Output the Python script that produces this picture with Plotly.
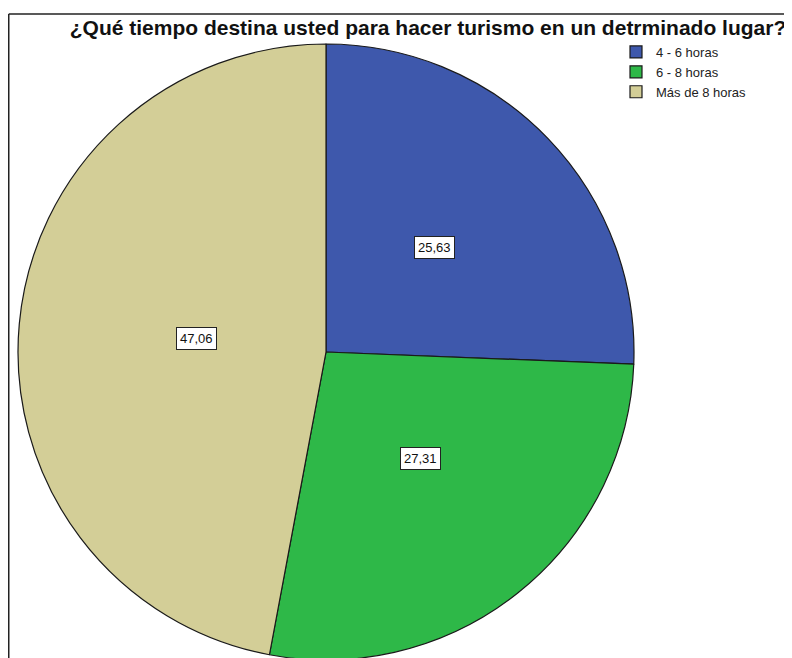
import math
import plotly.graph_objects as go

categories = ["4 - 6 horas", "6 - 8 horas", "Más de 8 horas"]
values = [25.63, 27.31, 47.06]
value_labels = ["25,63", "27,31", "47,06"]
colors = ["#3E58AC", "#2EB848", "#D3CE97"]
title_text = "¿Qué tiempo destina usted para hacer turismo en un detrminado lugar?"

W, H = 792, 658
# page body adds an 8 px offset; geometry below is in figure pixels
cx, cy, r = 318, 344, 308

fig = go.Figure()
fig.add_trace(go.Pie(
    labels=categories,
    values=values,
    sort=False,
    direction="clockwise",
    rotation=0,
    marker=dict(colors=colors, line=dict(color="#1a1a1a", width=1.2)),
    textinfo="none",
    hoverinfo="label+value",
    domain=dict(x=[(cx - r) / W, (cx + r) / W], y=[1 - (cy + r) / H, 1 - (cy - r) / H]),
))

total = sum(values)
cum = 0.0
annotations = []
for v, lab in zip(values, value_labels):
    mid = (cum + v / 2) / total * 2 * math.pi
    cum += v
    px = cx + 0.49 * r * math.sin(mid)
    py = cy - 0.49 * r * math.cos(mid)
    annotations.append(dict(
        x=px / W, y=1 - py / H, xref="paper", yref="paper",
        text=lab, showarrow=False,
        font=dict(family="Liberation Sans, Arial, sans-serif", size=13, color="#111"),
        bgcolor="white", bordercolor="#222", borderwidth=1, borderpad=3,
    ))

fig.update_layout(
    width=W, height=H,
    margin=dict(l=0, r=0, t=0, b=0),
    paper_bgcolor="white", plot_bgcolor="white",
    title=dict(
        text="<b>" + title_text + "</b>",
        x=420 / W, xanchor="center", y=1 - 20 / H, yanchor="middle",
        font=dict(family="Liberation Sans, Arial, sans-serif", size=21, color="#111"),
    ),
    legend=dict(
        x=608 / W, y=1 - 29 / H, xanchor="left", yanchor="top",
        font=dict(family="Liberation Sans, Arial, sans-serif", size=13, color="#222"),
        bgcolor="rgba(0,0,0,0)", itemwidth=30, tracegroupgap=0,
        itemclick=False,
    ),
    annotations=annotations,
    shapes=[
        dict(type="line", xref="paper", yref="paper", x0=0.75 / W, x1=1.02, y0=1 - 6 / H, y1=1 - 6 / H,
             line=dict(color="#222", width=1.5)),
        dict(type="line", xref="paper", yref="paper", x0=0.75 / W, x1=0.75 / W, y0=1 - 6 / H, y1=-0.02,
             line=dict(color="#222", width=1.5)),
    ],
)

fig.write_html("out.html")
